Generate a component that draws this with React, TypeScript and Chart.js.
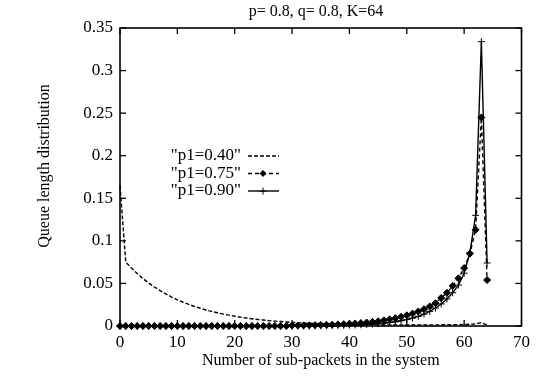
import { useEffect, useRef } from "react";
import { Chart, registerables } from "chart.js";

Chart.register(...registerables);

const xValues = [
  0, 1, 2, 3, 4, 5, 6, 7, 8, 9, 10, 11, 12, 13, 14, 15, 16, 17, 18, 19, 20,
  21, 22, 23, 24, 25, 26, 27, 28, 29, 30, 31, 32, 33, 34, 35, 36, 37, 38, 39,
  40, 41, 42, 43, 44, 45, 46, 47, 48, 49, 50, 51, 52, 53, 54, 55, 56, 57, 58,
  59, 60, 61, 62, 63, 64,
];

const p040 = [
  0.165, 0.075, 0.068, 0.0616, 0.0558, 0.0505, 0.0458, 0.0415, 0.0376, 0.034,
  0.0308, 0.0279, 0.0253, 0.0229, 0.0208, 0.0188, 0.0171, 0.0155, 0.014, 0.0127,
  0.0115, 0.0104, 0.0094, 0.0085, 0.0077, 0.007, 0.0063, 0.0057, 0.0052, 0.0047,
  0.0043, 0.0039, 0.0035, 0.0032, 0.0029, 0.0026, 0.0024, 0.0022, 0.002, 0.0018,
  0.0017, 0.0016, 0.0015, 0.0014, 0.0013, 0.0013, 0.0012, 0.0012, 0.0012, 0.0012,
  0.0012, 0.0012, 0.0012, 0.0012, 0.0013, 0.0013, 0.0014, 0.0014, 0.0015, 0.0016,
  0.0018, 0.002, 0.0025, 0.004, 0.001,
];

const p075 = [
  0, 0, 0, 0, 0, 0, 0, 0, 0, 0, 0, 0, 0, 0, 0, 0, 0, 0, 0, 0, 0, 0, 0, 0, 0, 0,
  0, 0, 0, 0, 0.0005, 0.0006, 0.0007, 0.0008, 0.001, 0.0012, 0.0014, 0.0016,
  0.0019, 0.0022, 0.0026, 0.003, 0.0035, 0.0041, 0.0048, 0.0056, 0.0066, 0.0078,
  0.0092, 0.0108, 0.0126, 0.0146, 0.017, 0.0198, 0.023, 0.0268, 0.033, 0.039,
  0.047, 0.056, 0.068, 0.085, 0.113, 0.245, 0.054,
];

const p090 = [
  0, 0, 0, 0, 0, 0, 0, 0, 0, 0, 0, 0, 0, 0, 0, 0, 0, 0, 0, 0, 0, 0, 0, 0, 0, 0,
  0, 0, 0, 0, 0, 0, 0, 0, 0, 0.0003, 0.0004, 0.0005, 0.0006, 0.0008, 0.001,
  0.0012, 0.0015, 0.0018, 0.0022, 0.0027, 0.0033, 0.0041, 0.005, 0.0062, 0.0076,
  0.0093, 0.0114, 0.014, 0.0172, 0.0211, 0.0259, 0.0318, 0.0391, 0.0481, 0.062,
  0.086, 0.13, 0.334, 0.074,
];

const seriesLabels = ['"p1=0.40"', '"p1=0.75"', '"p1=0.90"'];
const xTicks = [0, 10, 20, 30, 40, 50, 60, 70];
const xTickLabels = ["0", "10", "20", "30", "40", "50", "60", "70"];
const yTicks = [0, 0.05, 0.1, 0.15, 0.2, 0.25, 0.3, 0.35];
const yTickLabels = ["0", "0.05", "0.1", "0.15", "0.2", "0.25", "0.3", "0.35"];
const chartTitle = "p= 0.8, q= 0.8, K=64";
const xTitle = "Number of sub-packets in the system";
const yTitle = "Queue length distribution";

const FONT_FAMILY = '"Liberation Serif", "DejaVu Serif", serif';

function toPoints(values: number[]) {
  return values.map((v, i) => ({ x: xValues[i], y: v }));
}

const framePlugin = {
  id: "frame",
  afterDraw(chart: any) {
    const { ctx, chartArea: a, scales } = chart;
    ctx.save();
    ctx.strokeStyle = "#000";
    ctx.lineWidth = 1.6;
    ctx.strokeRect(a.left, a.top, a.right - a.left, a.bottom - a.top);
    ctx.lineWidth = 1.3;
    const seg = (x1: number, y1: number, x2: number, y2: number) => {
      ctx.beginPath();
      ctx.moveTo(x1, y1);
      ctx.lineTo(x2, y2);
      ctx.stroke();
    };
    for (const v of xTicks) {
      const px = scales.x.getPixelForValue(v);
      seg(px, a.bottom, px, a.bottom - 6);
      seg(px, a.top, px, a.top + 6);
    }
    for (const v of yTicks) {
      const py = scales.y.getPixelForValue(v);
      seg(a.left, py, a.left + 6, py);
      seg(a.right, py, a.right - 6, py);
    }

    ctx.fillStyle = "#000";
    ctx.font = `16px ${FONT_FAMILY}`;
    ctx.textAlign = "center";
    ctx.textBaseline = "middle";
    ctx.fillText(chartTitle, 316, 12);
    ctx.fillText(xTitle, (a.left + a.right) / 2, 361);
    ctx.save();
    ctx.translate(45, 166);
    ctx.rotate(-Math.PI / 2);
    ctx.fillText(yTitle, 0, 0);
    ctx.restore();

    // legend (gnuplot style: text then sample)
    const datasets = chart.data.datasets;
    datasets.forEach((ds: any, i: number) => {
      const y = 156 + i * 17.5;
      ctx.textAlign = "right";
      ctx.fillStyle = "#000";
      ctx.font = `17px ${FONT_FAMILY}`;
      ctx.fillText(seriesLabels[i], 241, y);
      ctx.save();
      ctx.strokeStyle = "#000";
      ctx.lineWidth = ds.borderWidth;
      ctx.setLineDash(ds.borderDash || []);
      seg(248, y, 279, y);
      ctx.restore();
      const mx = 263;
      if (ds.pointStyle === "rectRot" && ds.pointRadius > 0) {
        const r = ds.pointRadius;
        ctx.beginPath();
        ctx.moveTo(mx, y - r);
        ctx.lineTo(mx + r, y);
        ctx.lineTo(mx, y + r);
        ctx.lineTo(mx - r, y);
        ctx.closePath();
        ctx.fill();
      } else if (ds.pointStyle === "cross" && ds.pointRadius > 0) {
        const r = ds.pointRadius;
        ctx.lineWidth = 1;
        seg(mx - r, y, mx + r, y);
        seg(mx, y - r, mx, y + r);
      }
    });
    ctx.restore();
  },
};

export default function App() {
  const canvasRef = useRef<HTMLCanvasElement | null>(null);

  useEffect(() => {
    document.body.style.margin = "0";
    const canvas = canvasRef.current;
    if (!canvas) return;
    const tickFont = { family: FONT_FAMILY, size: 17 };
    const chart = new Chart(canvas, {
      type: "line",
      data: {
        datasets: [
          {
            label: seriesLabels[0],
            data: toPoints(p040),
            borderColor: "#000",
            backgroundColor: "#000",
            borderWidth: 1.4,
            borderDash: [4, 2],
            pointRadius: 0,
            tension: 0,
            clip: 8,
          },
          {
            label: seriesLabels[1],
            data: toPoints(p075),
            borderColor: "#000",
            backgroundColor: "#000",
            borderWidth: 1.4,
            borderDash: [4, 3],
            pointStyle: "rectRot",
            pointRadius: 3.5,
            pointBorderWidth: 1,
            tension: 0,
            clip: 8,
          },
          {
            label: seriesLabels[2],
            data: toPoints(p090),
            borderColor: "#000",
            backgroundColor: "#000",
            borderWidth: 1.4,
            pointStyle: "cross",
            pointRadius: 3.5,
            pointBorderWidth: 1,
            tension: 0,
            clip: 8,
          },
        ] as any,
      },
      options: {
        animation: false,
        responsive: false,
        layout: { padding: { top: 28, right: 10, left: 0, bottom: 0 } },
        plugins: {
          legend: { display: false },
          tooltip: { enabled: false },
          title: { display: false },
        },
        scales: {
          x: {
            type: "linear",
            min: 0,
            max: 70,
            grid: { display: false, drawTicks: false },
            border: { display: false },
            ticks: {
              padding: 6,
              font: tickFont,
              color: "#000",
              maxRotation: 0,
              autoSkip: false,
              callback: (_v: any, i: number) => xTickLabels[i],
            },
            afterBuildTicks: (s: any) => {
              s.ticks = xTicks.map((v) => ({ value: v }));
            },
            afterFit: (s: any) => {
              s.height = 52;
            },
          },
          y: {
            type: "linear",
            min: 0,
            max: 0.35,
            grid: { display: false, drawTicks: false },
            border: { display: false },
            ticks: {
              padding: 7,
              font: tickFont,
              color: "#000",
              autoSkip: false,
              callback: (_v: any, i: number) => yTickLabels[i],
            },
            afterBuildTicks: (s: any) => {
              s.ticks = yTicks.map((v) => ({ value: v }));
            },
            afterFit: (s: any) => {
              s.width = 120;
            },
          },
        },
      } as any,
      plugins: [framePlugin],
    });
    return () => chart.destroy();
  }, []);

  return (
    <div style={{ width: 536, height: 378 }}>
      <canvas ref={canvasRef} width={536} height={378} />
    </div>
  );
}
